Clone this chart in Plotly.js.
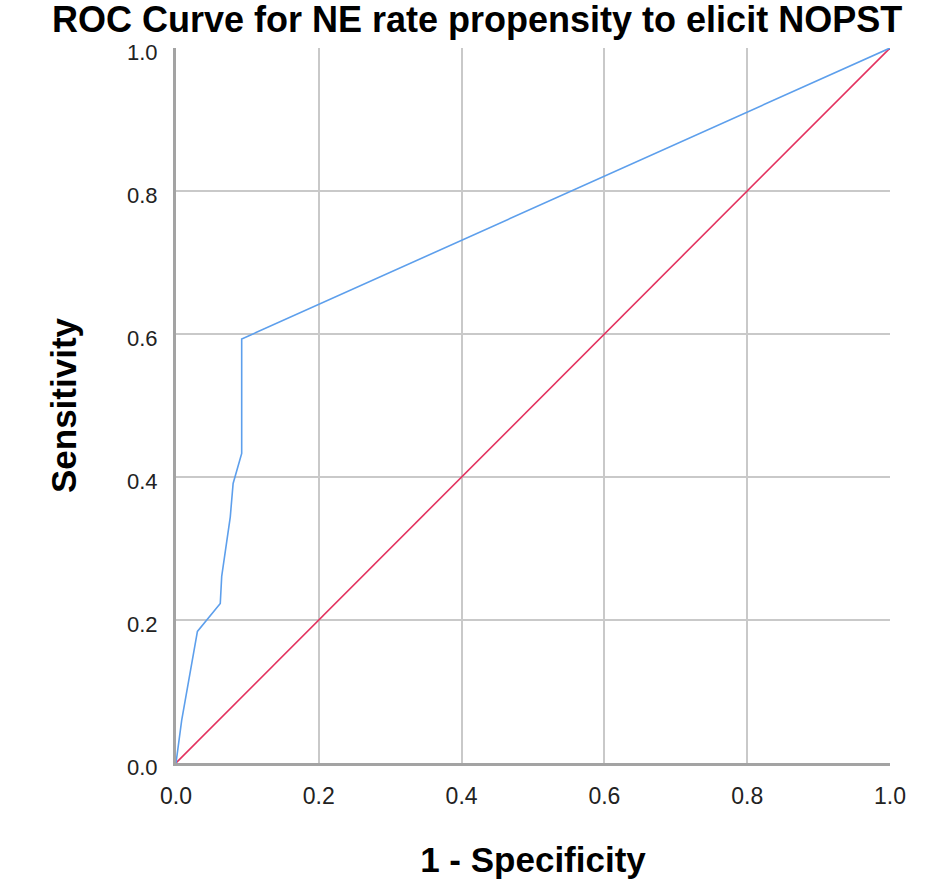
<!DOCTYPE html>
<html>
<head>
<meta charset="utf-8">
<script src="https://cdn.plot.ly/plotly-3.0.1.min.js"></script>
<style>html,body{margin:0;padding:0;background:#fff;}#chart{width:930px;height:891px;}</style>
</head>
<body>
<div id="chart"></div>
<script>
// ROC curve points
const rocFpr  = [0, 0.008, 0.030, 0.062, 0.064, 0.069, 0.076, 0.080, 0.092, 0.092, 1.0];
const rocTpr  = [0, 0.060, 0.184, 0.223, 0.261, 0.298, 0.344, 0.391, 0.433, 0.593, 1.0];
// Reference (chance) line
const refX = [0, 1];
const refY = [0, 1];
const tickVals = [0, 0.2, 0.4, 0.6, 0.8, 1.0];
const tickText = ["0.0", "0.2", "0.4", "0.6", "0.8", "1.0"];

const font = "Liberation Sans, Arial, sans-serif";

const traces = [
  {x: refX, y: refY, mode: "lines", line: {color: "#e3325f", width: 1.6}, hoverinfo: "skip", showlegend: false},
  {x: rocFpr, y: rocTpr, mode: "lines", line: {color: "#5d9fec", width: 1.6}, showlegend: false}
];

const layout = {
  width: 930, height: 891,
  paper_bgcolor: "#ffffff", plot_bgcolor: "#ffffff",
  margin: {l: 176, r: 40, t: 48, b: 128},
  showlegend: false,
  title: {
    text: "<b>ROC Curve for NE rate propensity to elicit NOPST</b>",
    font: {family: font, size: 36, color: "#000"},
    x: 0.513, xref: "container", xanchor: "center",
    y: 0.978, yref: "container", yanchor: "middle"
  },
  xaxis: {
    range: [0, 1], fixedrange: true,
    tickvals: tickVals, ticktext: tickText,
    tickfont: {family: font, size: 23, color: "#222"},
    showgrid: true, gridcolor: "#c9c9c9", gridwidth: 2,
    showline: true, linecolor: "#a3a3a3", linewidth: 3,
    zeroline: false, ticks: "", ticklabelstandoff: 10,
    title: {text: "<b>1 - Specificity</b>", font: {family: font, size: 35, color: "#000"}, standoff: 40}
  },
  yaxis: {
    range: [0, 1], fixedrange: true,
    tickvals: tickVals, ticktext: tickText,
    tickfont: {family: font, size: 22, color: "#222"},
    showgrid: true, gridcolor: "#c9c9c9", gridwidth: 2,
    showline: true, linecolor: "#a3a3a3", linewidth: 3,
    zeroline: false, ticks: "", ticklabelstandoff: 11, ticklabelshift: 4,
    title: {text: "<b>Sensitivity</b>", font: {family: font, size: 35, color: "#000"}, standoff: 40}
  }
};

Plotly.newPlot("chart", traces, layout, {displayModeBar: false, staticPlot: true});
</script>
</body>
</html>
